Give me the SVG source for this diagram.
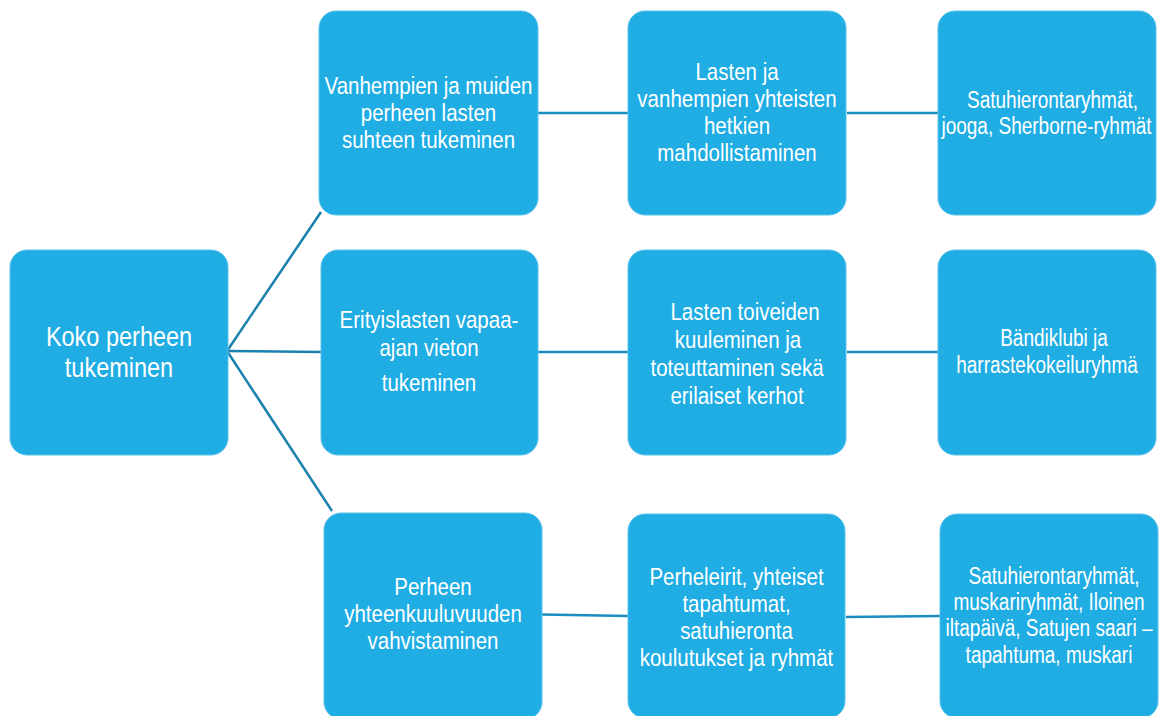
<svg xmlns="http://www.w3.org/2000/svg" width="1161" height="716" viewBox="0 0 1161 716">
<style>
.box{fill:#1fade3;stroke:#5cc3ea;stroke-width:1}
.t{font-family:"Liberation Sans",Arial,sans-serif;font-size:20.5px;fill:#ffffff;text-anchor:middle}
.big{font-size:23.5px}
.sm{font-size:19px}
.c{stroke:#1a8dc0;stroke-width:2.5;fill:none}
.r{stroke:#1a80ae;stroke-width:2.5;fill:none}
</style>
<rect width="1161" height="716" fill="#ffffff"/>
<g id="connectors">
<line class="r" x1="227" y1="351" x2="321" y2="212"/>
<line class="r" x1="227" y1="351" x2="321" y2="352"/>
<line class="r" x1="227" y1="351" x2="332" y2="511"/>
<line class="c" x1="538" y1="113" x2="628" y2="113"/>
<line class="c" x1="847" y1="113" x2="938" y2="113"/>
<line class="c" x1="538" y1="352" x2="628" y2="352"/>
<line class="c" x1="847" y1="352" x2="938" y2="352"/>
<line class="c" x1="542" y1="614.5" x2="628" y2="616"/>
<line class="c" x1="846" y1="617" x2="940" y2="616"/>
</g>
<g id="root">
<rect class="box" x="10" y="250" width="218" height="205" rx="17"/>
<g transform="translate(119,346) scale(1,1.2)"><text class="t big"><tspan x="0" y="0">Koko perheen</tspan><tspan x="0" y="25.8">tukeminen</tspan></text></g>
</g>
<g id="n-r1c2">
<rect class="box" x="319" y="11" width="219" height="204" rx="17"/>
<g transform="translate(428.5,94) scale(1,1.2)"><text class="t"><tspan x="0" y="0">Vanhempien ja muiden</tspan><tspan x="0" y="22.9">perheen lasten</tspan><tspan x="0" y="45.4">suhteen tukeminen</tspan></text></g>
</g>
<g id="n-r2c2">
<rect class="box" x="321" y="250" width="217" height="205" rx="17"/>
<g transform="translate(429,328) scale(1,1.2)"><text class="t"><tspan x="0" y="0">Erityislasten vapaa-</tspan><tspan x="0" y="23.3">ajan vieton</tspan><tspan x="0" y="52.5">tukeminen</tspan></text></g>
</g>
<g id="n-r3c2">
<rect class="box" x="324" y="513" width="218" height="206" rx="17"/>
<g transform="translate(433,595) scale(1,1.2)"><text class="t"><tspan x="0" y="0">Perheen</tspan><tspan x="0" y="22.7">yhteenkuuluvuuden</tspan><tspan x="0" y="45.4">vahvistaminen</tspan></text></g>
</g>
<g id="n-r1c3">
<rect class="box" x="628" y="11" width="218" height="204" rx="17"/>
<g transform="translate(737,80) scale(1,1.2)"><text class="t"><tspan x="0" y="0">Lasten ja</tspan><tspan x="0" y="22.7">vanhempien yhteisten</tspan><tspan x="0" y="45.4">hetkien</tspan><tspan x="0" y="67.8">mahdollistaminen</tspan></text></g>
</g>
<g id="n-r2c3">
<rect class="box" x="628" y="250" width="218" height="205" rx="17"/>
<g transform="translate(737,319.5) scale(1,1.2)"><text class="t"><tspan x="8" y="0">Lasten toiveiden</tspan><tspan x="1" y="23.8">kuuleminen ja</tspan><tspan x="0" y="47.5">toteuttaminen sekä</tspan><tspan x="0" y="70.4">erilaiset kerhot</tspan></text></g>
</g>
<g id="n-r3c3">
<rect class="box" x="628" y="514" width="217" height="204" rx="17"/>
<g transform="translate(736.5,585) scale(1,1.2)"><text class="t"><tspan x="0" y="0">Perheleirit, yhteiset</tspan><tspan x="0" y="22.3">tapahtumat,</tspan><tspan x="0" y="45">satuhieronta</tspan><tspan x="0" y="67.8">koulutukset ja ryhmät</tspan></text></g>
</g>
<g id="n-r1c4">
<rect class="box" x="938" y="11" width="218" height="204" rx="17"/>
<g transform="translate(1046.5,108) scale(1,1.28)"><text class="t sm"><tspan x="6" y="0">Satuhierontaryhmät,</tspan><tspan x="0" y="20.3">jooga, Sherborne-ryhmät</tspan></text></g>
</g>
<g id="n-r2c4">
<rect class="box" x="938" y="250" width="218" height="205" rx="17"/>
<g transform="translate(1047,346) scale(1,1.28)"><text class="t sm"><tspan x="7" y="0">Bändiklubi ja</tspan><tspan x="0" y="21.1">harrastekokeiluryhmä</tspan></text></g>
</g>
<g id="n-r3c4">
<rect class="box" x="940" y="514" width="218" height="204" rx="17"/>
<g transform="translate(1049,584) scale(1,1.28)"><text class="t sm"><tspan x="5" y="0">Satuhierontaryhmät,</tspan><tspan x="0" y="20.5">muskariryhmät, Iloinen</tspan><tspan x="0" y="41">iltapäivä, Satujen saari –</tspan><tspan x="0" y="61.5">tapahtuma, muskari</tspan></text></g>
</g>
</svg>
